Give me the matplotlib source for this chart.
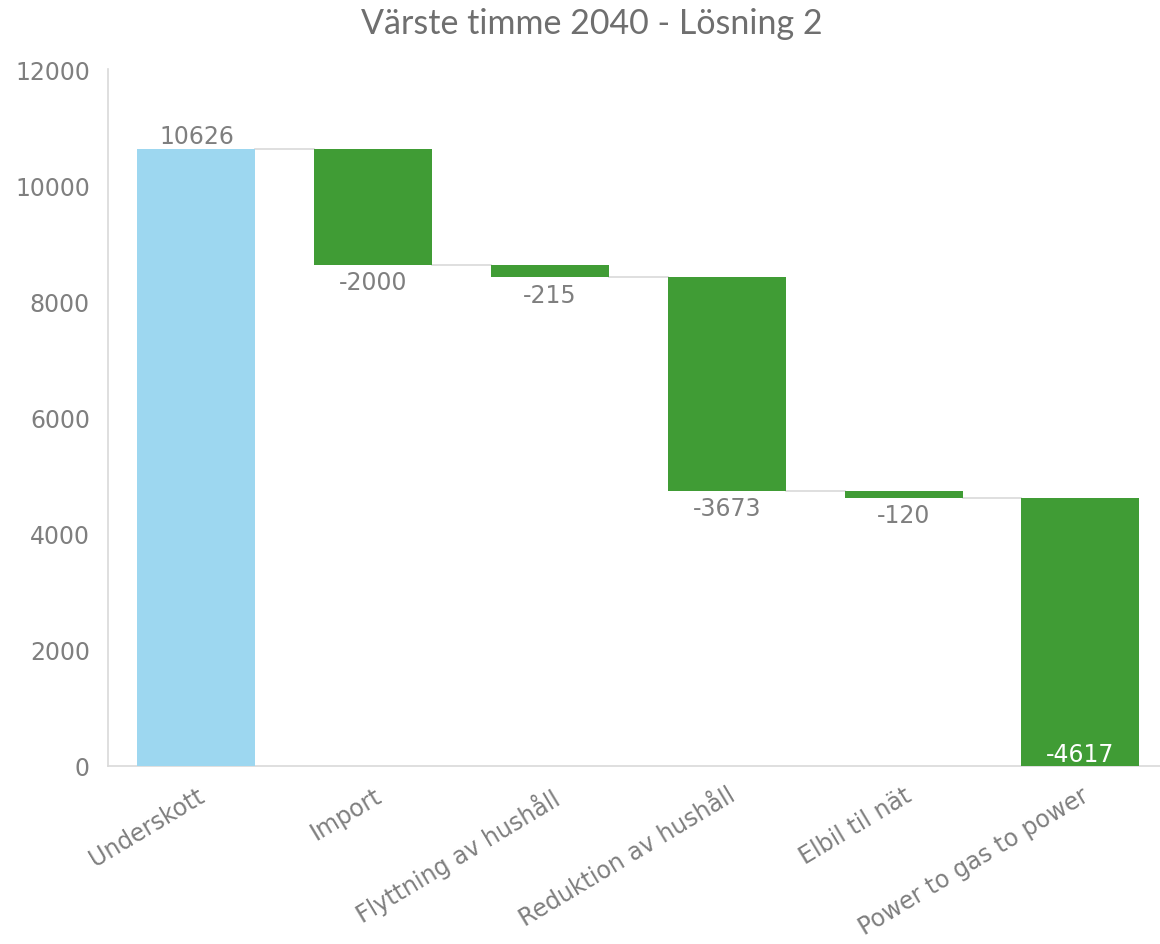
import matplotlib.pyplot as plt

plt.rcParams["font.family"] = ["DejaVu Sans"]

kategorier = ["Underskott", "Import", "Flyttning av hushåll", "Reduktion av hushåll",
              "Elbil til nät", "Power to gas to power"]
varden = [10626, -2000, -215, -3673, -120, -4617]

bla = "#9dd7f0"
gron = "#409c35"
gra = "#7f7f7f"

fig = plt.figure(figsize=(11.6, 9.45), dpi=100)
ax = fig.add_axes([108 / 1160, (945 - 767) / 945, 1052 / 1160, (767 - 70) / 945])

# waterfall: start bar then decreases
nivå = 0
toppar = []
for i, v in enumerate(varden):
    if i == 0:
        botten, topp = 0, v
        farg = bla
    else:
        botten, topp = nivå + v, nivå
        farg = gron
    ax.bar(i, topp - botten, bottom=botten, width=0.667, color=farg, zorder=3)
    nivå = nivå + v
    toppar.append((botten, topp))

# connector lines
for i in range(len(varden) - 1):
    y = toppar[0][1] if i == 0 else toppar[i][0]
    ax.plot([i + 0.3335, i + 1 - 0.3335], [y, y], color="#d9d9d9", lw=1.2, zorder=2)

# value labels
for i, v in enumerate(varden):
    botten, topp = toppar[i]
    if i == 0:
        ax.text(i, topp + 20, str(v), ha="center", va="bottom", color=gra, fontsize=17)
    elif i == len(varden) - 1:
        ax.text(i, botten + 5, str(v), ha="center", va="bottom", color="white", fontsize=17)
    else:
        ax.text(i, botten - 90, str(v), ha="center", va="top", color=gra, fontsize=17)

ax.set_xlim(-0.5, 5.45)
ax.set_ylim(0, 12000)
ax.set_yticks(range(0, 12001, 2000))
ax.set_xticks(range(len(kategorier)))
ax.set_xticklabels(kategorier, rotation=31, ha="right", va="top", rotation_mode="anchor")

ax.tick_params(axis="both", length=0, colors=gra, labelsize=17)
ax.tick_params(axis="y", pad=13)
ax.tick_params(axis="x", pad=12)
for s in ["top", "right"]:
    ax.spines[s].set_visible(False)
ax.spines["left"].set_color("#d9d9d9")
ax.spines["bottom"].set_color("#d9d9d9")
ax.spines["left"].set_linewidth(1.2)
ax.spines["bottom"].set_linewidth(1.2)

fig.text(0.510, 0.992, "Värste timme 2040 - Lösning 2", ha="center", va="top",
         color="#6f6f6f", fontsize=24.5, family="Lato")

fig.savefig("out.png", dpi=100)
